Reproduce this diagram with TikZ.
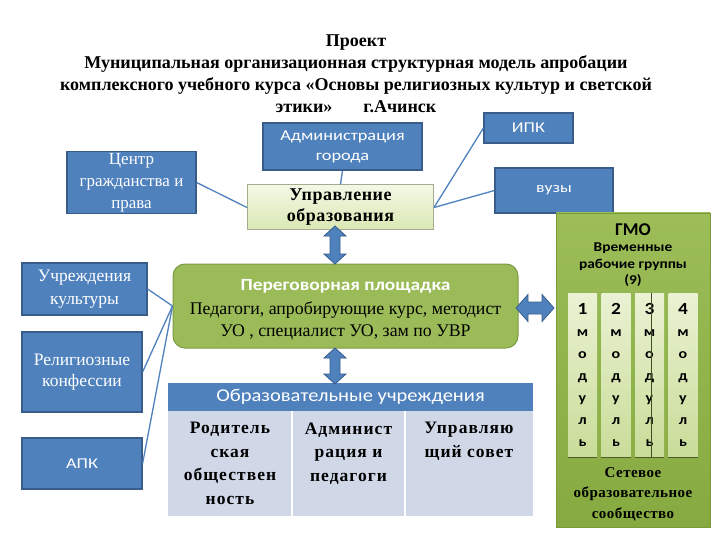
\documentclass[tikz,border=0pt]{standalone}
\usepackage{fontspec}
\setmainfont{Liberation Serif}
\newfontfamily\carl{Carlito}
\newfontfamily\carlm[FakeStretch=1.14]{Carlito}
\newfontfamily\carlw[FakeStretch=1.22]{Carlito}
\newfontfamily\serifsp[LetterSpace=6]{Liberation Serif}
\newfontfamily\serifsm[LetterSpace=3]{Liberation Serif}
\definecolor{bluebox}{HTML}{4F81BD}
\definecolor{blueedge}{HTML}{385D8A}
\definecolor{greenbox}{HTML}{9BBB59}
\definecolor{greenedge}{HTML}{7E9A45}
\definecolor{tablebody}{HTML}{D0D8E8}
\definecolor{uprtop}{HTML}{F3F8E6}
\definecolor{uprbot}{HTML}{D9E8B3}
\definecolor{upredge}{HTML}{A3AD8E}
\definecolor{paneltop}{HTML}{9CBD58}
\definecolor{panelbot}{HTML}{86AA40}
\definecolor{paneledge}{HTML}{7A9A3A}
\definecolor{coltop}{HTML}{EAF2D3}
\definecolor{colbot}{HTML}{C9DC98}
\definecolor{colshadow}{HTML}{4A5A2A}
\definecolor{colline}{HTML}{3E4E22}
\newcommand\mydblv[3]{%
 \draw[barrow] (#1,#2) -- (#1+11,#2+10) -- (#1+5,#2+10) -- (#1+5,#3-10) -- (#1+11,#3-10) -- (#1,#3) -- (#1-11,#3-10) -- (#1-5,#3-10) -- (#1-5,#2+10) -- (#1-11,#2+10) -- cycle;}
\newcommand\mydblh[3]{%
 \draw[barrow] (#1,#3) -- (#1+12,#3-13.5) -- (#1+12,#3-6) -- (#2-12,#3-6) -- (#2-12,#3-13.5) -- (#2,#3) -- (#2-12,#3+13.5) -- (#2-12,#3+6) -- (#1+12,#3+6) -- (#1+12,#3+13.5) -- cycle;}
\tikzset{
 bbox/.style={draw=blueedge, fill=bluebox, line width=1.2pt, text=white, align=center, inner sep=2pt},
 conn/.style={draw=bluebox, line width=1.3pt},
 barrow/.style={fill=bluebox, draw=blueedge, line width=0.8pt},
 colbox/.style={top color=coltop, bottom color=colbot, draw=none},
 cell/.style={align=center, anchor=north, font=\serifsp\bfseries\fontsize{17.5}{23.5}\selectfont},
}
\begin{document}
\begin{tikzpicture}[x=1pt,y=-1pt]
\useasboundingbox (0,0) rectangle (720,540);
\fill[white] (0,0) rectangle (720,540);
% title
\node[align=center, font=\bfseries\fontsize{18}{22}\selectfont] (title) at (356,74)
 {Проект\\Муниципальная организационная структурная модель апробации\\комплексного учебного курса «Основы религиозных культур и светской\\этики»\hspace{31pt}г.Ачинск};
% top boxes
\node[bbox, minimum width=89, minimum height=30, font=\carlw\fontsize{15}{18}\selectfont] (ipk) at (528.5,128) {ИПК};
\node[bbox, minimum width=159, minimum height=47, font=\carlw\fontsize{15}{20}\selectfont] (adm) at (342.5,146.5) {Администрация\\города};
\node[bbox, minimum width=129, minimum height=62, font=\fontsize{17}{22}\selectfont] (cent) at (131.5,182.5) {Центр\\гражданства и\\права};
\node[draw=upredge, line width=1pt, top color=uprtop, bottom color=uprbot, minimum width=186, minimum height=45, align=center, font=\serifsm\bfseries\fontsize{18}{21}\selectfont] (upr) at (340.5,207.5) {Управление\\образования};
\node[bbox, minimum width=118, minimum height=45, font=\carlw\fontsize{14.5}{17}\selectfont] (vuz) at (554,190.5) {вузы};
% GMO panel
\node[draw=paneledge, line width=0.8pt, top color=paneltop, bottom color=panelbot, minimum width=154, minimum height=314, inner sep=0pt] (gmo) at (633,370) {};
\node[font=\carl\bfseries\fontsize{18}{20}\selectfont] (gmot) at (633,230) {ГМО};
\node[align=center, font=\carlm\bfseries\fontsize{13.5}{16.5}\selectfont] (vrg) at (633,265) {Временные\\рабочие группы\\(9)};
\foreach \cx/\num [count=\i] in {582.5/1, 616/2, 649.5/3, 683/4} {
 \node[colbox, minimum width=29, minimum height=164, inner sep=0pt] (col\i) at (\cx,375) {};
 \draw[colshadow, line width=1.2pt] (col\i.south west) -- (col\i.south east);
 \node[align=center, anchor=north, font=\carlm\bfseries\fontsize{14}{22}\selectfont] (colt\i) at (\cx,300) {{\fontsize{17}{22}\selectfont\num}\\м\\о\\д\\у\\л\\ь};
}
\draw[colline, line width=0.8pt] ([xshift=2pt]col3.north) -- ([xshift=2pt]col3.south);
\node[align=center, font=\serifsm\bfseries\fontsize{15}{20.5}\selectfont] (set) at (633,494) {Сетевое\\образовательное\\сообщество};
% negotiation
\node[draw=greenedge, line width=1pt, fill=greenbox, rounded corners=12pt, minimum width=345, minimum height=84, inner sep=0pt] (neg) at (345.5,306) {};
\node[text=white, font=\carlm\bfseries\fontsize{17}{20}\selectfont] (negt) at (345.5,286) {Переговорная площадка};
\node[align=center, font=\fontsize{17.8}{22}\selectfont] (negb) at (345.5,321) {Педагоги, апробирующие курс, методист\\УО , специалист УО, зам по УВР};
% education table
\node[fill=bluebox, minimum width=365, minimum height=28, inner sep=0pt, text=white, font=\carlm\fontsize{18}{20}\selectfont] (eduh) at (350.5,397) {Образовательные учреждения};
\fill[tablebody] (eduh.south west) rectangle (533,516);
\draw[white, line width=1.5pt] (292,411) -- (292,516) (405,411) -- (405,516);
\node[cell] (c1) at (230,419) {Родитель\\ская\\обществен\\ность};
\node[cell] (c2) at (348.5,419) {Админист\\рация и\\педагоги};
\node[cell] (c3) at (469,419) {Управляю\\щий совет};
% left boxes
\node[bbox, minimum width=125, minimum height=52, font=\fontsize{17.5}{23}\selectfont] (kult) at (84.5,289) {Учреждения\\культуры};
\node[bbox, minimum width=120, minimum height=80, font=\fontsize{17.5}{21}\selectfont] (rel) at (82,372) {Религиозные\\конфессии};
\node[bbox, minimum width=120, minimum height=51, font=\carlw\fontsize{15}{18}\selectfont] (apk) at (82,463.5) {АПК};
% connectors
\draw[conn] (cent.east) -- (upr.west);
\draw[conn] (adm.south) -- (upr.north);
\draw[conn] (upr.east) -- (ipk.west);
\draw[conn] (upr.east) -- (vuz.west);
\draw[conn] (neg.west) -- (kult.east);
\draw[conn] (neg.west) -- (rel.east);
\draw[conn] (neg.west) -- (apk.east);
% block arrows
\mydblv{335}{226}{264}
\mydblv{335}{348}{384}
\mydblh{516}{554}{308}
\end{tikzpicture}
\end{document}
